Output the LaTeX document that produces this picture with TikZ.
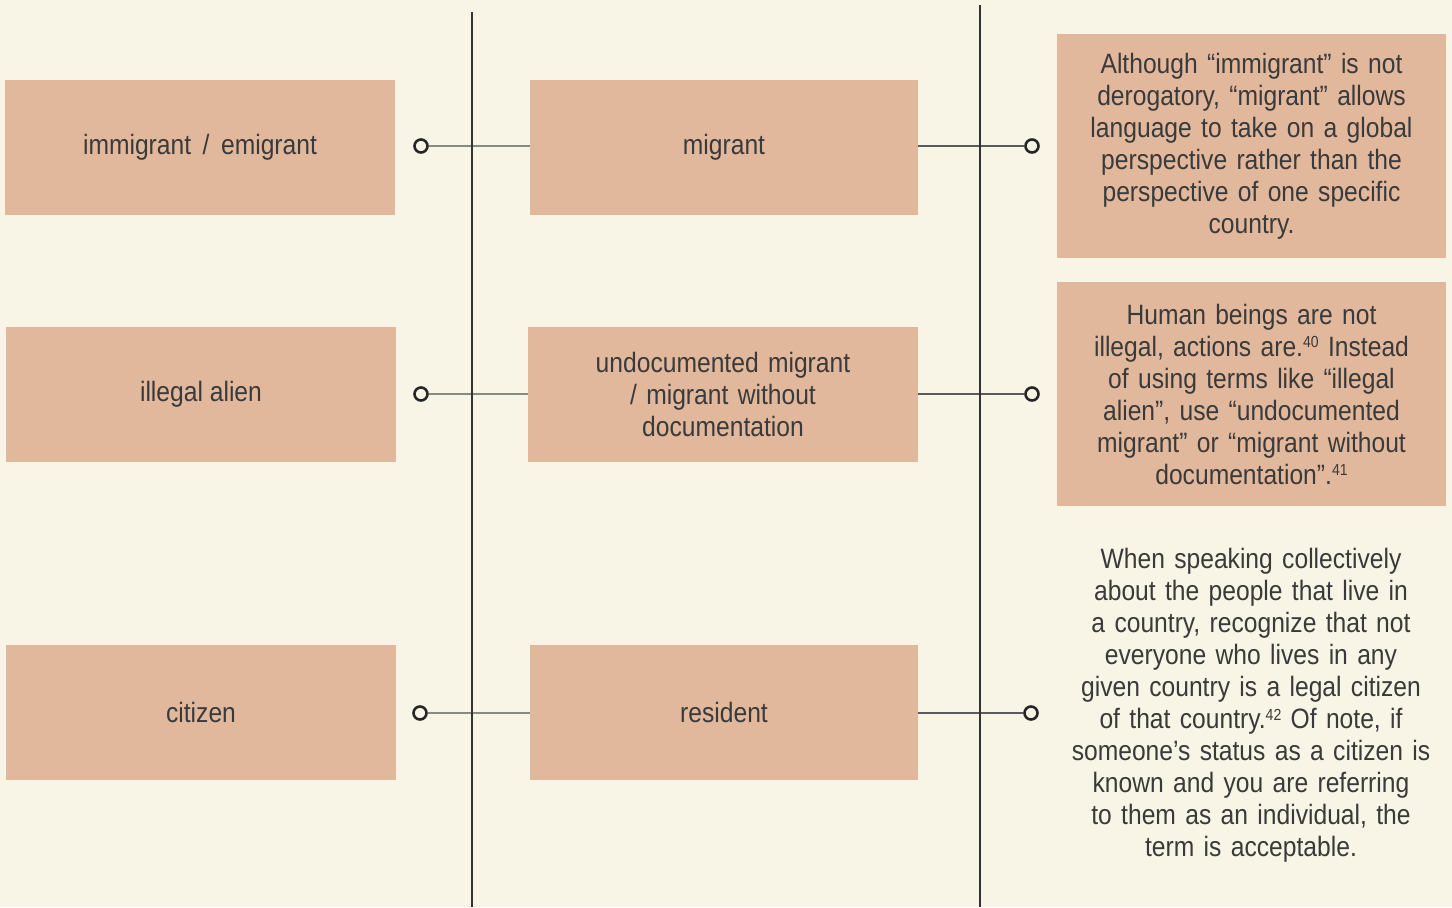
\documentclass[tikz,border=0pt]{standalone}
\usepackage{fontspec}
\setmainfont{Liberation Sans}[FakeStretch=0.88]
\definecolor{bg}{HTML}{F8F4E6}
\definecolor{boxc}{HTML}{E1B89C}
\definecolor{txt}{HTML}{3A3A3A}
\definecolor{vline}{HTML}{333333}
\definecolor{lconn}{HTML}{8A8A84}
\definecolor{rconn}{HTML}{5A5A5A}
\newcommand\fnref[1]{\raisebox{0.55ex}{\fontsize{8}{8}\selectfont #1}}
\tikzset{
  termbox/.style={fill=boxc, draw=none, inner sep=0pt, text=txt, align=center,
    font=\fontsize{14}{16}\selectfont},
  notebox/.style={fill=boxc, draw=none, inner sep=0pt, text=txt, align=center,
    font=\fontsize{14}{16}\selectfont},
  notetext/.style={draw=none, inner sep=0pt, text=txt, align=center,
    font=\fontsize{14}{16}\selectfont},
  pin/.style={circle, draw=black!85, line width=1.3pt, fill=bg, inner sep=0pt, minimum size=6.5pt},
  divider/.style={draw=vline, line width=1pt},
  lcon/.style={draw=lconn, line width=0.75pt},
  rcon/.style={draw=rconn, line width=0.75pt}
}
\begin{document}
\begin{tikzpicture}[x=0.5pt, y=-0.5pt]
\fill[bg] (0,0) rectangle (1452,907);
\useasboundingbox (0,0) rectangle (1452,907);
% vertical dividers
\coordinate (v1t) at (472,12);
\coordinate (v1b) at (472,907);
\coordinate (v2t) at (980,5);
\coordinate (v2b) at (980,907);
% left boxes
\node[termbox, minimum width=195pt, minimum height=67.5pt] (l1) at (200,147.5) {immigrant \,/\, emigrant};
\node[termbox, minimum width=195pt, minimum height=67.5pt] (l2) at (201,394.5) {illegal alien};
\node[termbox, minimum width=195pt, minimum height=67.5pt] (l3) at (201,712.5) {citizen};
% middle boxes
\node[termbox, minimum width=194pt, minimum height=67.5pt] (m1) at (724,147.5) {migrant};
\node[termbox, minimum width=195pt, minimum height=67.5pt, text width=195pt] (m2) at (723,394.5) {undocumented migrant\\/ migrant without\\documentation};
\node[termbox, minimum width=194pt, minimum height=67.5pt] (m3) at (724,712.5) {resident};
% right notes
\node[notebox, minimum width=194.5pt, minimum height=112pt, text width=194.5pt] (r1) at (1251.5,146) {Although “immigrant” is not\\derogatory, “migrant” allows\\language to take on a global\\perspective rather than the\\perspective of one specific\\country.};
\node[notebox, minimum width=194.5pt, minimum height=112pt, text width=194.5pt] (r2) at (1251.5,394) {Human beings are not\\illegal, actions are.\fnref{40} Instead\\of using terms like “illegal\\alien”, use “undocumented\\migrant” or “migrant without\\documentation”.\fnref{41}};
\node[notetext, text width=194.5pt] (r3) at (1251,705) {When speaking collectively\\about the people that live in\\a country, recognize that not\\everyone who lives in any\\given country is a legal citizen\\of that country.\fnref{42} Of note, if\\someone’s status as a citizen is\\known and you are referring\\to them as an individual, the\\term is acceptable.};
% pins
\node[pin] (p1) at (421,146) {};
\node[pin] (p2) at (421,394) {};
\node[pin] (p3) at (420,713) {};
\node[pin] (q1) at (1032,146) {};
\node[pin] (q2) at (1032,394) {};
\node[pin] (q3) at (1031,713) {};
% connectors
\draw[lcon] (p1.east) -- (p1.east -| m1.west);
\draw[lcon] (p2.east) -- (p2.east -| m2.west);
\draw[lcon] (p3.east) -- (p3.east -| m3.west);
\draw[rcon] (q1.west -| m1.east) -- (q1.west);
\draw[rcon] (q2.west -| m2.east) -- (q2.west);
\draw[rcon] (q3.west -| m3.east) -- (q3.west);
% dividers on top
\draw[divider] (v1t) -- (v1b);
\draw[divider] (v2t) -- (v2b);
\end{tikzpicture}
\end{document}
